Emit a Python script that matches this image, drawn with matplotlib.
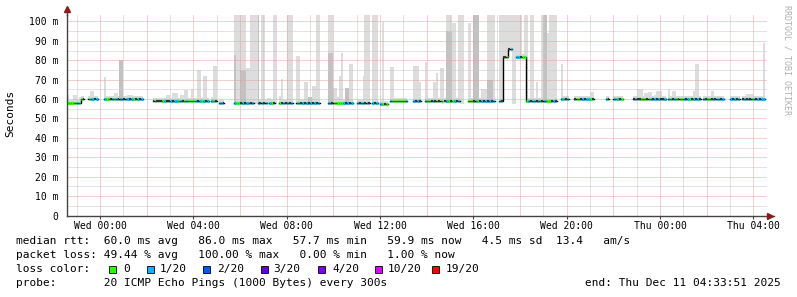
import numpy as np
import matplotlib.pyplot as plt
from matplotlib.patches import Rectangle

# time axis: hours relative to Wed 00:00, data in 5 minute steps (k = step index)
t_start = -1.4358   # Tue 22:33:51
t_end = 28.5642     # Thu 04:33:51
tick_hours = [0, 4, 8, 12, 16, 20, 24, 28]
tick_labels = ['Wed 00:00', 'Wed 04:00', 'Wed 08:00', 'Wed 12:00',
               'Wed 16:00', 'Wed 20:00', 'Thu 00:00', 'Thu 04:00']
y_ticks = [0, 10, 20, 30, 40, 50, 60, 70, 80, 90, 100]
y_labels = ['0', '10 m', '20 m', '30 m', '40 m', '50 m', '60 m', '70 m', '80 m', '90 m', '100 m']

# median rtt runs: (first step, end step, ms)
median_runs = [(-17, -10, 58.0), (-10, -8, 60.1), (-6, -1, 60.2), (2, 22, 60.1),
               (27, 56, 59.2), (57, 60, 59.2), (61, 64, 58.0), (69, 79, 58.0),
               (81, 86, 58.0), (87, 90, 58.1), (92, 99, 57.9), (101, 113, 58.0),
               (117, 130, 58.0), (132, 139, 58.0), (140, 143, 58.0), (144, 148, 57.5),
               (149, 158, 59.0), (161, 165, 59.0), (167, 176, 59.1), (177, 185, 59.2),
               (189, 203, 59.1), (205, 207, 59.0), (207, 210, 81.6), (210, 212, 85.7),
               (214, 219, 81.6), (219, 235, 59.0), (237, 241, 59.9), (244, 254, 60.0),
               (260, 262, 60.0), (264, 269, 60.0), (274, 291, 60.0), (292, 309, 60.0),
               (310, 321, 60.0), (324, 329, 60.0), (330, 342, 60.0)]
# loss colour of each step in the run: g = 0, b = 1/20, k = other
loss_codes = ['gggggbg', 'gk', 'gbbkb', 'bggkbgbkbbkbbkbgkbkb',
              'kgkkkgbkkbkbbgbkgbggggbkbgbkb', 'bgk', 'bbk', 'bggkbkbbkb',
              'bkbkb', 'bgk', 'gkbkbkb', 'bgkbkbkbkbkb',
              'bbkgggggbkbkb', 'bkbbkbk', 'bkb', 'bgkg',
              'bgggggggb', 'bkbk', 'bggkbkgkg', 'kbgkgbkb',
              'gggkbgkbkbkbkb', 'bk', 'kkg', 'kb',
              'bbkgg', 'gbkbbkbgkbgggkbk', 'bgkb', 'kggkbkbbgk',
              'bk', 'bgbkg', 'kbkkgggkgbkbkbkkb', 'bgkbgkggbkbgkbkbk',
              'bkggkbkbbkb', 'bkbkb', 'kbkbkgbkbkbb']

# smoke: max ping per step (ms), 104 = off the top
smoke_top = {-17: 62.2, -14: 62, -13: 62, -11: 61, -5: 64, -4: 64, 2: 71.6, 7: 63, 8: 63,
             14: 62, 15: 62, 16: 62, 18: 60.6, 19: 60.6, 34: 62, 35: 62, 37: 63, 38: 63,
             39: 63, 41: 62, 42: 62, 43: 64.5, 44: 64.5, 47: 65, 50: 75, 51: 75, 53: 72,
             54: 72, 57: 61, 58: 77, 59: 77, 69: 104, 70: 104, 71: 104, 72: 104, 73: 104,
             74: 104, 75: 76, 76: 76, 77: 104, 78: 104, 79: 104, 80: 104, 81: 104, 83: 104,
             84: 104, 86: 60.5, 87: 60.5, 89: 104, 90: 104, 92: 61.5, 93: 70.4, 96: 104,
             97: 104, 98: 104, 101: 82, 102: 82, 105: 69, 106: 69, 109: 66.8, 110: 66.8,
             111: 104, 112: 104, 117: 104, 118: 104, 119: 104, 120: 65.5, 121: 65.5,
             122: 61, 123: 72, 124: 84, 128: 78, 129: 78, 135: 71.7, 136: 104, 137: 104,
             138: 104, 140: 104, 141: 104, 142: 104, 145: 99.5, 149: 76.3, 150: 76.3,
             161: 77, 162: 77, 163: 77, 164: 69, 167: 79, 171: 69, 172: 69, 173: 73.5,
             175: 76, 176: 76, 178: 104, 179: 104, 180: 104, 181: 99, 182: 99, 184: 104,
             185: 104, 186: 104, 189: 99, 190: 99, 192: 104, 193: 104, 194: 104, 196: 65,
             197: 65, 198: 65, 199: 104, 200: 104, 201: 104, 202: 104, 205: 104, 206: 104,
             207: 104, 208: 104, 209: 104, 210: 104, 211: 104, 212: 104, 213: 104, 214: 104,
             215: 104, 216: 104, 218: 104, 219: 104, 221: 104, 222: 104, 224: 69, 227: 104,
             228: 104, 229: 104, 230: 94, 231: 104, 232: 104, 233: 104, 234: 104, 237: 78,
             252: 63.8, 253: 63.8, 276: 65, 277: 65, 278: 65, 280: 63, 281: 63, 282: 63.8,
             283: 63.8, 285: 62, 286: 64, 287: 64, 288: 64, 292: 65, 294: 64, 295: 64,
             305: 64, 306: 78, 307: 78, 314: 64, 315: 64, 316: 61, 326: 61, 327: 61,
             332: 62.5, 333: 62.5, 334: 62.5, 335: 62.5, 341: 89}
# darker smoke (inner pings)
smoke_dark = {10: 80.3, 11: 80.3, 69: 82.8, 72: 75, 73: 75, 74: 75, 81: 104, 107: 61,
              108: 61, 117: 84, 118: 84, 119: 84, 126: 65.5, 127: 65.5, 178: 95, 179: 95,
              180: 95, 192: 104, 193: 104, 194: 104, 199: 70, 200: 70, 201: 70,
              228: 104, 229: 104}

loss_colors = {'g': '#26ff00', 'b': '#00b8ff', 'k': '#000000'}
legend_names = ['0', '1/20', '2/20', '3/20', '4/20', '10/20', '19/20']
legend_colors = ['#26ff00', '#00b8ff', '#0059ff', '#5e00ff', '#7e00ff', '#dd00ff', '#ff0000']

step = 1 / 12
mono = 'DejaVu Sans Mono'

# per-step arrays
ks = np.arange(-17, 343)
med = np.full(len(ks), np.nan)
code = [''] * len(ks)
for (k0, k1, v), pat in zip(median_runs, loss_codes):
    for i, k in enumerate(range(k0, k1)):
        med[k + 17] = v
        code[k + 17] = pat[i] if i < len(pat) else 'k'

fig = plt.figure(figsize=(7.97, 2.97), dpi=100)
fig.patch.set_facecolor('white')
ax = fig.add_axes([66.5 / 797, (297 - 215.5) / 297, 700 / 797, 200.6 / 297])
ax.set_xlim(t_start, t_end)
ax.set_ylim(0, 103.4)

# smoke bars
for k, top in smoke_top.items():
    base = med[k + 17] - 1 if not np.isnan(med[k + 17]) else 57.5
    ax.bar(k * step, top - base, bottom=base, width=step, align='edge',
           color='#dddddd', linewidth=0, zorder=1)
for k, top in smoke_dark.items():
    base = med[k + 17] - 1 if not np.isnan(med[k + 17]) else 57.5
    ax.bar(k * step, top - base, bottom=base, width=step, align='edge',
           color='#c2c2c2', linewidth=0, zorder=1.2)
# thin smoke around the median
for i, k in enumerate(ks):
    if not np.isnan(med[i]):
        ax.bar(k * step, 2.4, bottom=med[i] - 0.9, width=step, align='edge',
               color='#dadada', linewidth=0, zorder=1.1)

# grid (dotted)
for h in np.arange(-1, 29, 1):
    c = '#e6a3a3' if h % 2 == 0 else '#c8c8c8'
    ax.axvline(h, color=c, lw=0.72, ls=(0, (1, 1)), zorder=2)
for v in np.arange(5, 104, 5):
    c = '#e6a3a3' if v % 10 == 0 else '#c8c8c8'
    ax.axhline(v, color=c, lw=0.72, ls=(0, (1, 1)), zorder=2)

# median line (black steps) and loss colours
i = 0
while i < len(ks):
    if np.isnan(med[i]):
        i += 1
        continue
    j = i
    while j + 1 < len(ks) and not np.isnan(med[j + 1]):
        j += 1
    xs, ys = [], []
    for m in range(i, j + 1):
        xs += [ks[m] * step, (ks[m] + 1) * step]
        ys += [med[m], med[m]]
    ax.plot(xs, ys, color='black', lw=1.0, zorder=3)
    i = j + 1
for i, k in enumerate(ks):
    if code[i] in ('g', 'b'):
        ax.plot([k * step + 0.01, (k + 1) * step - 0.01], [med[i], med[i]],
                color=loss_colors[code[i]], lw=2.3, solid_capstyle='butt', zorder=4)
    elif code[i] == 'k':
        ax.plot([k * step, (k + 1) * step], [med[i], med[i]], color='#333333',
                lw=1.5, solid_capstyle='butt', zorder=4)

# axes
for s in ['top', 'right']:
    ax.spines[s].set_visible(False)
for s in ['left', 'bottom']:
    ax.spines[s].set_color('#444444')
    ax.spines[s].set_linewidth(1.0)
    ax.spines[s].set_zorder(5)
ax.plot([1, 1.01], [0, 0], transform=ax.transAxes, color='#444444', lw=1, clip_on=False)
ax.plot([0, 0], [1, 1.03], transform=ax.transAxes, color='#444444', lw=1, clip_on=False)
ax.plot([1.0045], [0], transform=ax.transAxes, marker='>', color='#8b1a1a', ms=4,
        clip_on=False, zorder=6)
ax.plot([0], [1.03], transform=ax.transAxes, marker='^', color='#8b1a1a', ms=4,
        clip_on=False, zorder=6)

ax.set_xticks(tick_hours)
ax.set_xticklabels(tick_labels, fontfamily=mono, fontsize=7)
ax.set_yticks(y_ticks)
ax.set_yticklabels(y_labels, fontfamily=mono, fontsize=7)
ax.tick_params(axis='x', length=2, pad=2, color='#444444')
ax.tick_params(axis='y', length=0, pad=6)

fig.text(10 / 797, 1 - 113 / 297, 'Seconds', rotation=90, ha='center', va='center',
         fontfamily=mono, fontsize=8)
fig.text(787 / 797, 1 - 60 / 297, 'RRDTOOL / TOBI OETIKER', rotation=270, ha='center',
         va='center', fontfamily=mono, fontsize=6, color='#b0b0b0')

# legend lines
def fy(py):
    return 1 - py / 297

fig.text(16 / 797, fy(241), 'median rtt:  60.0 ms avg   86.0 ms max   57.7 ms min   '
         '59.9 ms now   4.5 ms sd  13.4   am/s', fontfamily=mono, fontsize=8, va='center')
fig.text(16 / 797, fy(255), 'packet loss: 49.44 % avg   100.00 % max   0.00 % min   '
         '1.00 % now', fontfamily=mono, fontsize=8, va='center')
fig.text(16 / 797, fy(269), 'loss color:', fontfamily=mono, fontsize=8, va='center')
sw_x = [109, 147, 203, 261, 318, 375, 432]
lb_x = [123, 160, 217, 273, 332, 388, 446]
for sx, lx, name, col in zip(sw_x, lb_x, legend_names, legend_colors):
    fig.add_artist(Rectangle((sx / 797, fy(272.5)), 7 / 797, 7 / 297, facecolor=col,
                             edgecolor='black', lw=0.6, transform=fig.transFigure))
    fig.text(lx / 797, fy(269), name, fontfamily=mono, fontsize=8, va='center')
fig.text(16 / 797, fy(283), 'probe:       20 ICMP Echo Pings (1000 Bytes) every 300s',
         fontfamily=mono, fontsize=8, va='center')
fig.text(781 / 797, fy(283), 'end: Thu Dec 11 04:33:51 2025', fontfamily=mono,
         fontsize=8, va='center', ha='right')

fig.savefig('out.png', dpi=100)
